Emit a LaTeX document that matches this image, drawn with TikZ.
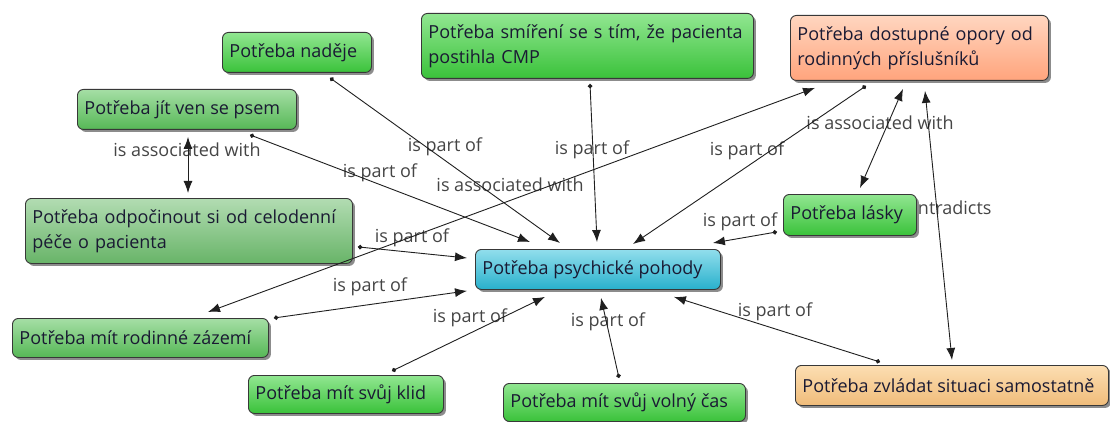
\documentclass[tikz,border=0pt]{standalone}
\usepackage{fontspec}
\setmainfont{Open Sans}
\usetikzlibrary{arrows.meta,shadows,calc}

\definecolor{txt}{HTML}{1A1A33}
\definecolor{lbltxt}{HTML}{454545}

% left-aligned single line of a given width (in pt)
\newcommand{\boxtext}[2]{\makebox[#1pt][l]{#2}}

\begin{document}
\begin{tikzpicture}[x=1pt,y=-1pt,
  concept/.style={draw=black!78, line width=0.9pt, rounded corners=6pt,
    inner xsep=7pt, inner ysep=0pt, anchor=north west, align=left,
    text=txt, font=\fontsize{18}{25}\selectfont,
    drop shadow={shadow xshift=2.5pt, shadow yshift=-2.5pt, opacity=0.45, fill=black}},
  brightg/.style={top color={rgb,255:red,145;green,230;blue,145}, bottom color={rgb,255:red,58;green,194;blue,58}},
  midg/.style={top color={rgb,255:red,165;green,222;blue,165}, bottom color={rgb,255:red,86;green,184;blue,86}},
  paleg/.style={top color={rgb,255:red,178;green,220;blue,178}, bottom color={rgb,255:red,104;green,180;blue,104}},
  cyanc/.style={top color={rgb,255:red,145;green,222;blue,236}, bottom color={rgb,255:red,40;green,176;blue,204}},
  salmon/.style={top color={rgb,255:red,255;green,214;blue,192}, bottom color={rgb,255:red,255;green,164;blue,124}},
  peach/.style={top color={rgb,255:red,252;green,222;blue,178}, bottom color={rgb,255:red,240;green,188;blue,122}},
  link/.style={draw=black!88, line width=0.9pt,
    {Circle[length=4.5pt]}-{Latex[length=12pt,width=9pt]}},
  assoc/.style={draw=black!88, line width=0.9pt,
    {Latex[length=12pt,width=9pt]}-{Latex[length=12pt,width=9pt]}},
  lbl/.style={text=lbltxt, font=\fontsize{18}{20}\selectfont, inner sep=0pt}
]
\useasboundingbox (0,0) rectangle (1110,422);

% linking phrases
\node[lbl] (l1)  at (445,147) {is part of};
\node[lbl] (l2)  at (380,173) {is part of};
\node[lbl] (l3)  at (187,150) {is associated with};
\node[lbl] (l4)  at (412,238) {is part of};
\node[lbl] (l5)  at (370,287) {is part of};
\node[lbl] (l6)  at (510,185) {is associated with};
\node[lbl] (l7)  at (470,318) {is part of};
\node[lbl] (l8)  at (592,150) {is part of};
\node[lbl] (l9)  at (747,151) {is part of};
\node[lbl] (l10) at (880,123) {is associated with};
\node[lbl] (l11) at (740,222) {is part of};
\node[lbl] (l12) at (945,208) {contradicts};
\node[lbl] (l13) at (775,312) {is part of};
\node[lbl] (l14) at (608,322) {is part of};

% concepts (inner width = box width - 14)
\node[concept, brightg, minimum height=40] (nadeje) at (222,32) {\boxtext{135}{Potřeba naděje}};
\node[concept, midg, minimum height=40] (jit) at (77,89) {\boxtext{205}{Potřeba jít ven se psem}};
\node[concept, paleg, text width=313pt, minimum height=65] (odpoc) at (25,198) {Potřeba odpočinout si od celodenní\\péče o pacienta};
\node[concept, midg, minimum height=39] (zazemi) at (12,318) {\boxtext{242}{Potřeba mít rodinné zázemí}};
\node[concept, brightg, minimum height=38] (klid) at (248,375) {\boxtext{181}{Potřeba mít svůj klid}};
\node[concept, brightg, text width=318pt, minimum height=65] (smireni) at (421,13) {Potřeba smíření se s tím, že pacienta\\postihla CMP};
\node[concept, salmon, text width=244pt, minimum height=65] (dostupne) at (790,15) {Potřeba dostupné opory od\\rodinných příslušníků};
\node[concept, cyanc, minimum height=40] (psych) at (475,249) {\boxtext{231}{Potřeba psychické pohody}};
\node[concept, brightg, minimum height=41] (lasky) at (783,194) {\boxtext{119}{Potřeba lásky}};
\node[concept, brightg, minimum height=38] (volny) at (503,383) {\boxtext{228}{Potřeba mít svůj volný čas}};
\node[concept, peach, minimum height=40] (zvladat) at (795,365) {\boxtext{299}{Potřeba zvládat situaci samostatně}};

% connections
\draw[link] ($(nadeje.south west)+(108,5)$) -- ($(psych.north west)+(85,-6)$);
\draw[link] ($(jit.south west)+(173,5)$) -- ($(psych.north west)+(55,-7)$);
\draw[assoc] ($(jit.south west)+(111,7)$) -- ($(odpoc.north west)+(163,-5)$);
\draw[link] ($(odpoc.south east)+(5,-17)$) -- ($(psych.north west)+(-8,9)$);
\draw[link] ($(zazemi.north east)+(5,0)$) -- ($(psych.south west)+(-8,1)$);
\draw[assoc] ($(zazemi.north west)+(196,-6)$) -- ($(dostupne.south west)+(25,7)$);
\draw[link] ($(klid.north west)+(144,-4)$) -- ($(psych.south west)+(70,7)$);
\draw[link] ($(smireni.south west)+(169,5)$) -- ($(psych.north west)+(122,-7)$);
\draw[link] ($(dostupne.south west)+(76,5)$) -- ($(psych.north west)+(158,-5)$);
\draw[assoc] ($(dostupne.south west)+(113,8)$) -- ($(lasky.north west)+(77,-6)$);
\draw[link] ($(lasky.south west)+(-6,-4)$) -- ($(psych.north east)+(-8,-6)$);
\draw[assoc] ($(dostupne.south west)+(135,10)$) -- ($(zvladat.north west)+(157,-5)$);
\draw[link] ($(zvladat.north west)+(85,-3)$) -- ($(psych.south east)+(-47,7)$);
\draw[link] ($(volny.north west)+(116,-5)$) -- ($(psych.south west)+(126,8)$);
\end{tikzpicture}
\end{document}
